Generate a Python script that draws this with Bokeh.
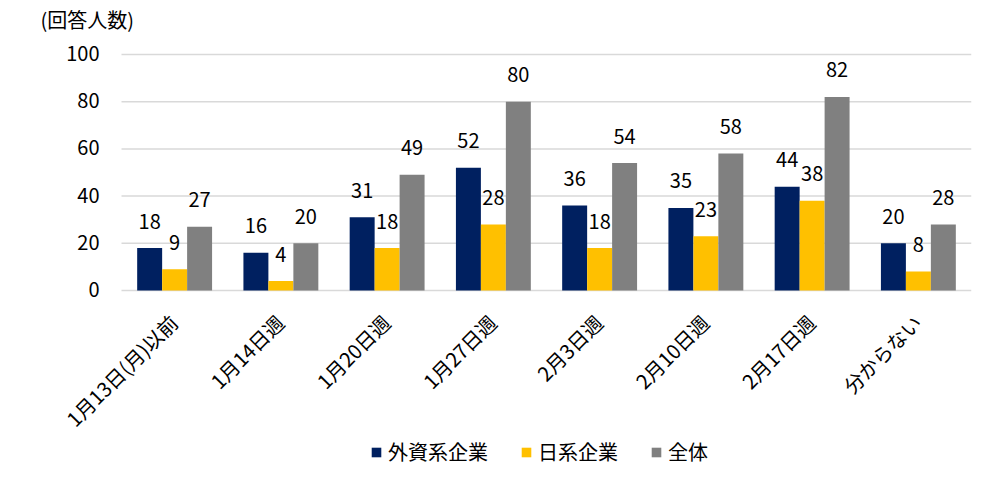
from bokeh.plotting import figure
from bokeh.models import ColumnDataSource, Range1d, Legend, LegendItem
from bokeh.core.properties import value
from bokeh.embed import file_html
from bokeh.resources import INLINE
import math

categories = ["1月13日(月)以前", "1月14日週", "1月20日週", "1月27日週", "2月3日週", "2月10日週", "2月17日週", "分からない"]
gaishi = [18, 16, 31, 52, 36, 35, 44, 20]
nikkei = [9, 4, 18, 28, 18, 23, 38, 8]
zentai = [27, 20, 49, 80, 54, 58, 82, 28]
series_names = ["外資系企業", "日系企業", "全体"]
colors = ["#002060", "#FFC000", "#808080"]
yticks = [0, 20, 40, 60, 80, 100]
y_title = "(回答人数)"

FONT = "Noto Sans CJK JP"

# layout geometry (pixels)
W, H = 995, 503
FRAME_LEFT, FRAME_RIGHT = 40, 971
AXIS_LEFT = 121
FRAME_TOP, TOP100 = 5, 54
ZERO_Y, FRAME_BOTTOM = 290, 495
n = len(categories)
px_per_cat = (FRAME_RIGHT - AXIS_LEFT) / n
px_per_unit = (ZERO_Y - TOP100) / 100.0
x_min = -(AXIS_LEFT - FRAME_LEFT) / px_per_cat
y_min = -(FRAME_BOTTOM - ZERO_Y) / px_per_unit
y_max = 100 + (TOP100 - FRAME_TOP) / px_per_unit

xs = [i + 0.5 for i in range(n)]
bw = 0.235
src = ColumnDataSource(dict(x=xs, cat=categories, a=gaishi, b=nikkei, c=zentai,
                            zero=[0] * n,
                            la=[str(v) for v in gaishi], lb=[str(v) for v in nikkei], lc=[str(v) for v in zentai]))

p = figure(width=W, height=H, x_range=Range1d(x_min, n), y_range=Range1d(y_min, y_max),
           output_backend="svg", toolbar_location=None)
p.min_border_left = FRAME_LEFT
p.min_border_right = W - FRAME_RIGHT
p.min_border_top = FRAME_TOP
p.min_border_bottom = H - FRAME_BOTTOM
p.outline_line_color = None
p.background_fill_color = "white"
p.xaxis.visible = False
p.yaxis.visible = False
p.xgrid.grid_line_color = None
p.ygrid.grid_line_color = None

# gridlines
p.segment(x0=[0] * len(yticks), x1=[n] * len(yticks), y0=yticks, y1=yticks,
          line_color="#D9D9D9", line_width=1.5)

# y tick labels
p.text(x=[0] * len(yticks), y=yticks, text=[str(t) for t in yticks],
       text_align="right", text_baseline="middle", x_offset=-22, y_offset=-1,
       text_font_size="20px", text_color="#000000", text_font=value(FONT))

# axis title
p.text(x=[0], y=[100], text=[y_title], text_align="left", text_baseline="middle",
       x_offset=-(AXIS_LEFT - FRAME_LEFT), y_offset=-35,
       text_font_size="20px", text_color="#000000", text_font=value(FONT))

renderers = []
offsets = [-bw, 0.0, bw]
for col, lab, off, color in zip(["a", "b", "c"], ["la", "lb", "lc"], offsets, colors):
    xo = [x + off for x in xs]
    src.data["x_" + col] = xo
    r = p.vbar(x="x_" + col, top=col, width=bw, source=src,
               fill_color=color, line_color=None)
    renderers.append(r)
    p.text(x="x_" + col, y=col, text=lab, source=src,
           text_align="center", text_baseline="middle", y_offset=-27,
           text_font_size="20px", text_color="#000000", text_font=value(FONT))

# category labels (rotated)
p.text(x="x", y="zero", text="cat", source=src, angle=math.pi / 4,
       text_align="right", text_baseline="middle", x_offset=-1, y_offset=28,
       text_font_size="20px", text_color="#000000", text_font=value(FONT))

legend = Legend(items=[LegendItem(label=nm, renderers=[r]) for nm, r in zip(series_names, renderers)],
                orientation="horizontal", location=(330, 29),
                label_text_font=FONT, label_text_font_size="20px", label_text_color="#000000",
                glyph_width=12, glyph_height=12, spacing=32, label_standoff=6,
                border_line_color=None, background_fill_alpha=0, padding=4, margin=0)
p.add_layout(legend, "center")

open("out.html", "w").write(file_html(p, INLINE))
